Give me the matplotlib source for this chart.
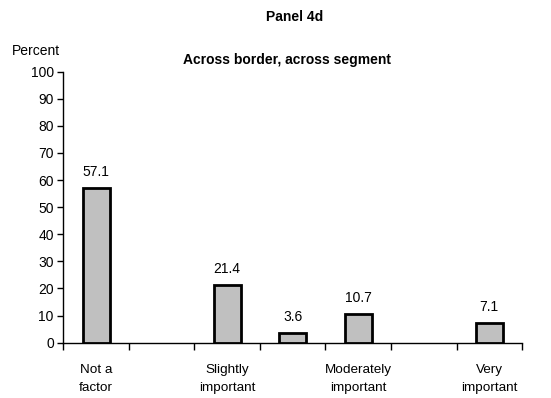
import numpy as np
import matplotlib
matplotlib.use("Agg")
import matplotlib.pyplot as plt

plt.rcParams["font.family"] = ["Liberation Sans", "DejaVu Sans"]

# Categories (empty slots keep the spacing of the original chart)
categories = ["Not a\nfactor", "", "Slightly\nimportant", "", "Moderately\nimportant", "", "Very\nimportant"]
percents = [57.1, np.nan, 21.4, 3.6, 10.7, np.nan, 7.1]
y_ticks = [0, 10, 20, 30, 40, 50, 60, 70, 80, 90, 100]

fig = plt.figure(figsize=(5.51, 3.98), dpi=100)
ax = fig.add_axes([0.1152, 0.139, 0.8322, 0.681])

x = np.arange(len(categories))
vals = np.array(percents, dtype=float)
have = ~np.isnan(vals)
ax.bar(x[have], vals[have], width=0.41, color="#c0c0c0", edgecolor="black", linewidth=2.0, zorder=3)

for xi, v in zip(x[have], vals[have]):
    ax.annotate(f"{v:.1f}", (xi, v), xytext=(0, 6.5), textcoords="offset points",
                ha="center", va="bottom", fontsize=10)

ax.set_xlim(-0.5, len(categories) - 0.5)
ax.set_ylim(0, 100)
ax.set_yticks(y_ticks)
ax.tick_params(axis="y", direction="out", length=4, width=1, labelsize=10, pad=3)

ax.set_xticks(x)
ax.set_xticklabels(categories, fontsize=9.7, linespacing=1.75)
ax.tick_params(axis="x", which="major", length=0, pad=15)
ax.set_xticks(np.arange(-0.5, len(categories)), minor=True)
ax.tick_params(axis="x", which="minor", direction="out", length=5, width=1)

for s in ["top", "right"]:
    ax.spines[s].set_visible(False)
for s in ["left", "bottom"]:
    ax.spines[s].set_linewidth(1)

fig.text(0.534, 0.958, "Panel 4d", ha="center", va="center", fontsize=10, fontweight="bold")
fig.text(0.521, 0.849, "Across border, across segment", ha="center", va="center", fontsize=10, fontweight="bold")
fig.text(0.065, 0.872, "Percent", ha="center", va="center", fontsize=10)

fig.savefig("out.png", dpi=100)
